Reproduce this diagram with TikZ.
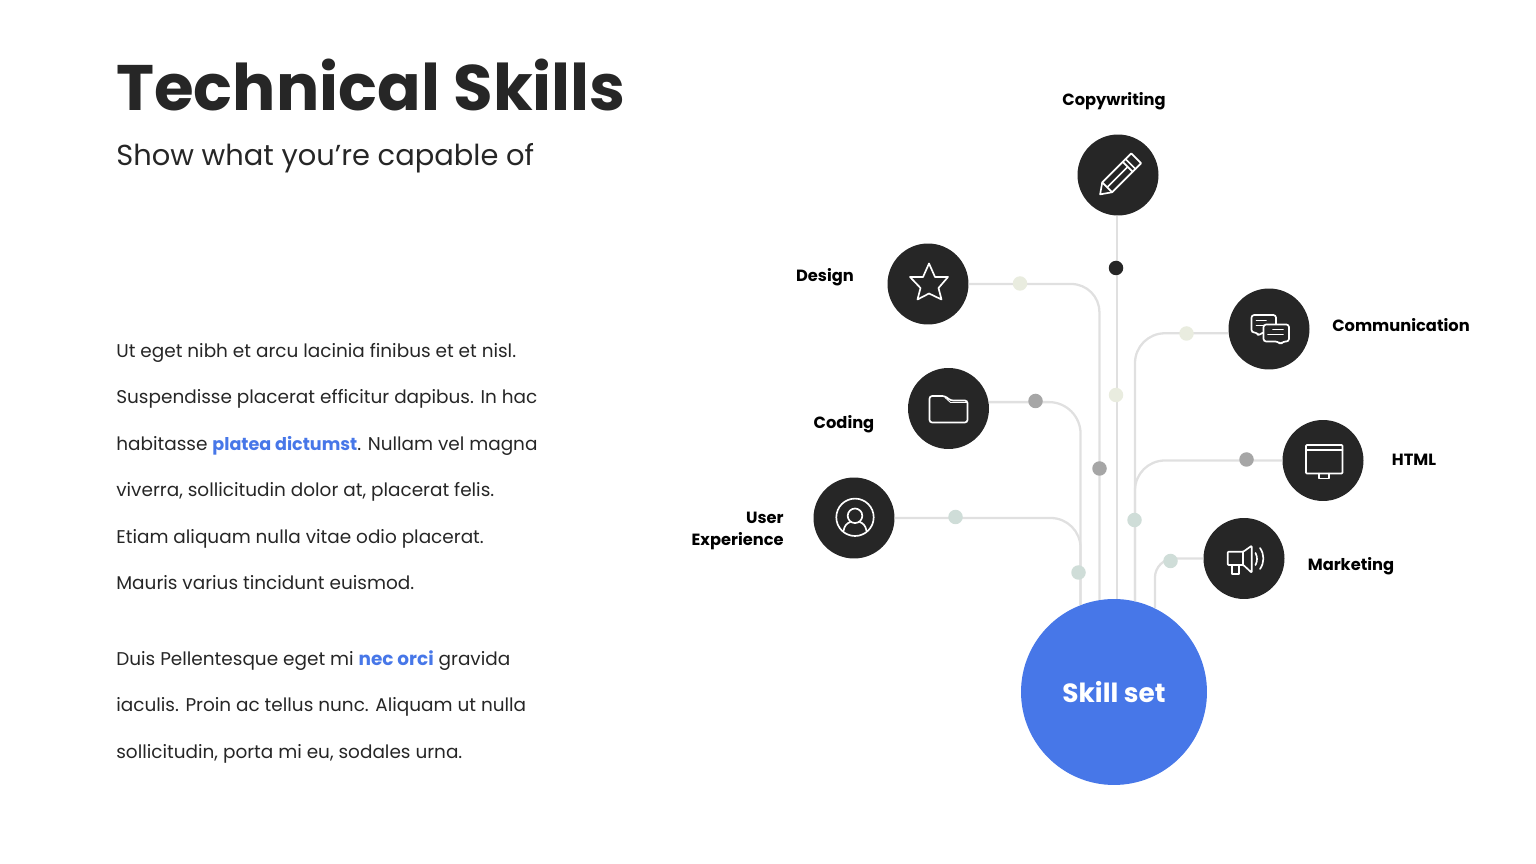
\documentclass[tikz,border=0pt]{standalone}
\usepackage{fontspec}
\setmainfont{Poppins}
\usepackage{tikz}
\usetikzlibrary{positioning}
\definecolor{ink}{HTML}{262626}
\definecolor{wiregray}{HTML}{E0E0E0}
\definecolor{skillblue}{HTML}{4777E8}
\definecolor{dotpale}{HTML}{E9ECDF}
\definecolor{dotgray}{HTML}{A6A6A6}
\definecolor{dotgreen}{HTML}{CFDDD8}

\begin{document}
\begin{tikzpicture}[x=0.02cm, y=-0.02cm,
    skill/.style={circle, fill=ink, minimum size=1.62cm, inner sep=0pt},
    wire/.style={draw=wiregray, line width=1.3pt},
    dot/.style={circle, minimum size=0.29cm, inner sep=0pt},
    label/.style={font=\fontsize{9.25}{12}\selectfont\bfseries, text=black, inner sep=0pt},
    icon/.style={draw=white, line width=0.95pt, line join=round, line cap=round},
    body/.style={anchor=north west, align=left, inner sep=0pt, text=ink, font=\fontsize{10.5}{26.45}\selectfont}]
  \useasboundingbox (0,0) rectangle (1536,864);

  % left column
  \node[anchor=west, inner sep=0pt, text=ink, font=\fontsize{36.6}{40}\selectfont\bfseries] (title) at (116,85) {Technical Skills};
  \node[anchor=west, inner sep=0pt, text=ink, font=\fontsize{16.45}{20}\selectfont] (subtitle) at (116,158.5) {Show what you’re capable of};
  \node[body] (para1) at (116,343) {Ut eget nibh et arcu lacinia finibus et et nisl.\\
    Suspendisse placerat efficitur dapibus. In hac\\
    habitasse \textcolor{skillblue}{\fontsize{10}{26.45}\selectfont\textbf{platea dictumst}}. Nullam vel magna\\
    viverra, sollicitudin dolor at, placerat felis.\\
    Etiam aliquam nulla vitae odio placerat.\\
    Mauris varius tincidunt euismod.};
  \node[body] (para2) at (116,650) {Duis Pellentesque eget mi \textcolor{skillblue}{\textbf{nec orci}} gravida\\
    iaculis. Proin ac tellus nunc. Aliquam ut nulla\\
    sollicitudin, porta mi eu, sodales urna.};

  % circles
  \node[circle, fill=skillblue, minimum size=3.72cm, inner sep=0pt, text=white, font=\fontsize{15}{18}\selectfont\bfseries] (hub) at (1114,692) {Skill set};
  \node[skill] (copy)   at (1118,175)   {};
  \node[skill] (design) at (928,284)    {};
  \node[skill] (coding) at (948.5,408.5) {};
  \node[skill] (user)   at (854,518)    {};
  \node[skill] (comm)   at (1269,329)   {};
  \node[skill] (html)   at (1323,460.5) {};
  \node[skill] (market) at (1244,558.5) {};

  % labels
  \node[label] (copylabel)   at (1114,101)  {Copywriting};
  \node[label] (designlabel) at (825,277)  {Design};
  \node[label] (codinglabel) at (844,424)  {Coding};
  \node[label, align=right, anchor=east] (userlabel) at (784,531) {User\\Experience};
  \node[label] (commlabel)   at (1401,325.5) {Communication};
  \node[label] (htmllabel)   at (1414,460) {HTML};
  \node[label] (marketlabel) at (1351,566) {Marketing};

  % wires
  \draw[wire] (copy.south -| hub.88) -- (hub.88);
  \draw[wire, rounded corners=16pt] (design.east) -| (hub.99);
  \draw[wire, rounded corners=18pt] (coding.9) -| (hub.111);
  \draw[wire, rounded corners=17pt] (user.east) -| (hub.111);
  \draw[wire, rounded corners=17pt] (comm.186) -| (hub.77);
  \draw[wire, rounded corners=17pt] (html.west) -| (hub.77);
  \draw[wire, rounded corners=11pt] (market.west) -| (hub.64);

  % dots
  \node[dot, fill=ink] (d1) at (1116,268) {};
  \node[dot, fill=dotpale] (d2) at (1020,283.5) {};
  \node[dot, fill=dotpale] (d3) at (1116,395) {};
  \node[dot, fill=dotgray] (d4) at (1099.5,468.5) {};
  \node[dot, fill=dotgray] (d5) at (1035.5,401) {};
  \node[dot, fill=dotgreen] (d6) at (955.5,517) {};
  \node[dot, fill=dotgreen] (d7) at (1078.5,572.5) {};
  \node[dot, fill=dotpale] (d8) at (1186.5,333.5) {};
  \node[dot, fill=dotgray] (d9) at (1246.5,459.5) {};
  \node[dot, fill=dotgreen] (d10) at (1134.5,520) {};
  \node[dot, fill=dotgreen] (d11) at (1170.5,561) {};

  % icons
  \begin{scope}[shift={(copy.center)}, shift={(0.5,1)}, rotate=45]
    \draw[icon] (-26,0) -- (-16,-7) -- (25,-7) -- (25,7) -- (-16,7) -- cycle;
    \draw[icon] (-16,-7) -- (-16,7) (13,-7) -- (13,7) (17,-7) -- (17,7) (-16,0) -- (13,0);
  \end{scope}
  \begin{scope}[shift={(design.center)}]
    \draw[icon] (1,-20.5) -- (7,-7) -- (20,-7) -- (10.5,4) -- (13.5,15.5) -- (1,9.5) -- (-10.5,15.5) -- (-7.5,4) -- (-18,-7) -- (-5,-7) -- cycle;
  \end{scope}
  \begin{scope}[shift={(coding.center)}]
    \draw[icon, rounded corners=1.5pt] (-19,-12.5) -- (-3.5,-12.5) -- (2,-8) -- (19,-8) -- (19,14) -- (-19,14) -- cycle;
    \draw[icon, line width=0.5pt] (-3.5,-11) -- (2,-6) -- (19,-6);
  \end{scope}
  \begin{scope}[shift={(user.center)}, shift={(1,-0.7)}]
    \draw[icon] (0,0) circle (18.7);
    \draw[icon] (0,-1.5) circle (7.3);
    \draw[icon] (-11.5,13.5) .. controls (-10.5,8) and (-8,6) .. (-4.5,4.5);
    \draw[icon] (11.5,13.5) .. controls (10.5,8) and (8,6) .. (4.5,4.5);
  \end{scope}
  \begin{scope}[shift={(comm.center)}]
    \draw[icon, rounded corners=1.5pt] (-17.5,-14) -- (7,-14) -- (7,3.5) -- (-7,3.5) -- (-10.5,7) -- (-12,3.5) -- (-17.5,3.5) -- cycle;
    \draw[icon] (-12.5,-8.5) -- (-3,-8.5) (-12.5,-3.5) -- (2,-3.5);
    \draw[icon, fill=ink, rounded corners=1.5pt] (-5.5,-4.5) -- (20,-4.5) -- (20,12.5) -- (14,12.5) -- (11.5,15.5) -- (9,12.5) -- (-5.5,12.5) -- cycle;
    \draw[icon] (4,0.5) -- (14,0.5) (-1,5.5) -- (14,5.5);
  \end{scope}
  \begin{scope}[shift={(html.center)}]
    \draw[icon, rounded corners=0.5pt] (-17,-15.5) rectangle (19.5,13);
    \draw[icon] (-17,-10.5) -- (19.5,-10.5);
    \draw[icon] (-4,13) -- (-4,18) -- (6.3,18) -- (6.3,13);
  \end{scope}
  \begin{scope}[shift={(market.center)}]
    \draw[icon, rounded corners=0.5pt] (-16.3,-6.8) -- (-0.7,-6.8) -- (7.7,-12.8) -- (7.7,14.2) -- (-0.7,6.5) -- (-16.3,6.5) -- cycle;
    \draw[icon] (-0.7,-6.8) -- (-0.7,6.5);
    \draw[icon] (-12.3,6.5) -- (-12.3,15.5) -- (-5,15.5) -- (-5,6.5);
    \draw[icon] (11.5,-5.5) .. controls (13.5,-2) and (13.5,3) .. (11.5,6.5);
    \draw[icon] (16,-10.5) .. controls (20.5,-4) and (20.5,4) .. (16,10.5);
  \end{scope}
\end{tikzpicture}
\end{document}
